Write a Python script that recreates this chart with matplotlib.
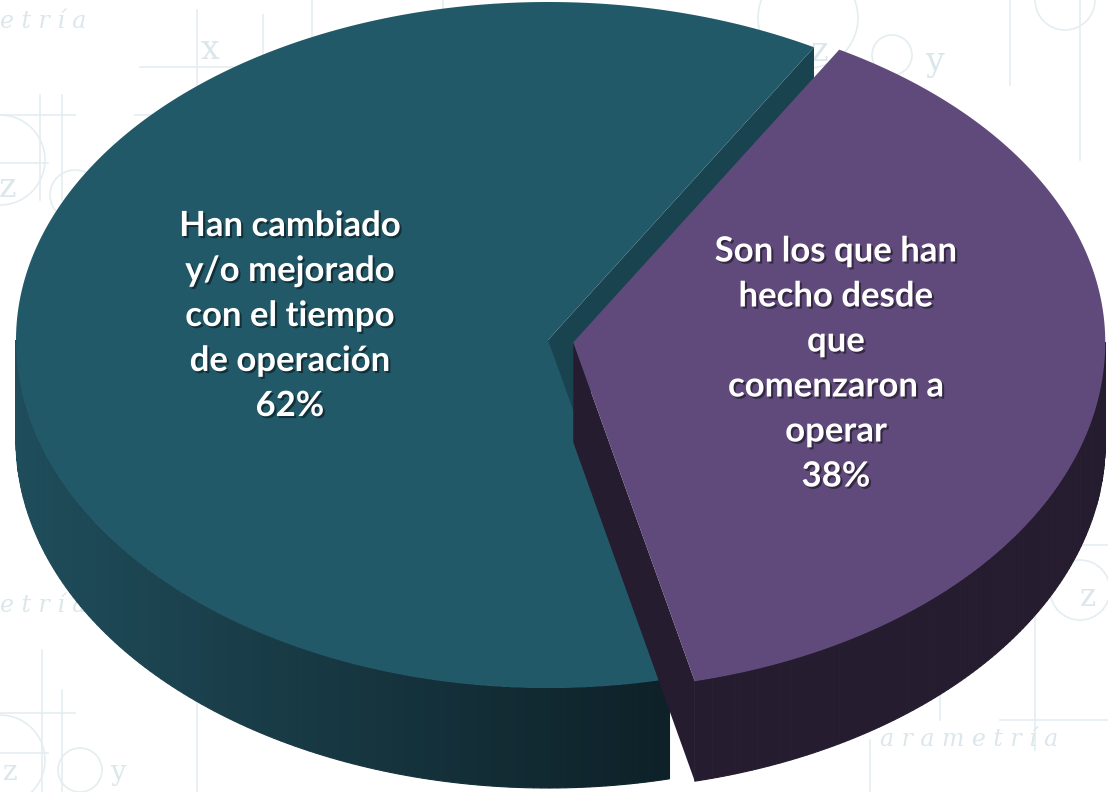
import numpy as np
import matplotlib.pyplot as plt
import matplotlib.patheffects as pe
from matplotlib.patches import Polygon, Circle

labels = ['Han cambiado\ny/o mejorado\ncon el tiempo\nde operación',
          'Son los que han\nhecho desde\nque\ncomenzaron a\noperar']
values = [62, 38]
top_colors = ['#215968', '#604a7b']
wall_colors = ['#1a4350', '#261c30']

# pie geometry in pixels (top half of the ellipse is a bit flatter)
cx, cy = 548, 340
rx, ry_top, ry_bot = 532, 338, 348
depth = 100
start = 60.0
explode = [0.0, 0.048]

fig = plt.figure(figsize=(11.08, 7.92), dpi=100)
ax = fig.add_axes([0, 0, 1, 1])
ax.set_xlim(0, 1108)
ax.set_ylim(792, 0)
ax.axis('off')

# faint watermark in the background
wm = '#e4eef1'
for x0, y0, y1 in [(40, 95, 200), (62, 95, 200), (197, 10, 160), (263, 15, 110), (312, 0, 85),
                   (443, 0, 90), (1010, 0, 85), (1080, 0, 160), (42, 650, 792), (62, 690, 792),
                   (197, 640, 792), (1035, 560, 750), (940, 640, 720), (870, 740, 792)]:
    ax.plot([x0, x0], [y0, y1], color=wm, lw=1.2, zorder=0)
for y0, x0, x1 in [(67, 140, 250), (115, 0, 75), (163, 0, 48), (713, 0, 75), (753, 0, 48),
                   (115, 135, 260), (720, 1000, 1108), (545, 1060, 1108)]:
    ax.plot([x0, x1], [y0, y0], color=wm, lw=1.2, zorder=0)
for xc, yc, r in [(0, 160, 45), (75, 195, 25), (808, 18, 50), (892, 55, 20), (1065, 0, 30),
                  (1080, 590, 30), (0, 760, 45), (80, 770, 22)]:
    ax.add_patch(Circle((xc, yc), r, fill=False, ec=wm, lw=1.2, zorder=0))
wm_txt = [('x', 210, 50, 24), ('z', 820, 52, 24), ('y', 935, 62, 24), ('z', 8, 188, 24),
          ('z', 1088, 598, 22), ('z', 10, 772, 20), ('y', 118, 772, 20)]
for t, x, y, s in wm_txt:
    ax.text(x, y, t, color='#dbe7eb', fontsize=s, family='DejaVu Serif', ha='center', va='center', zorder=0)
for t, x, y in [('e t r í a', 0, 22), ('e t r í a', 0, 605), ('a r a m e t r í a', 880, 740)]:
    ax.text(x, y, t, color='#dbe7eb', fontsize=17, family='DejaVu Serif', style='italic',
            ha='left', va='center', zorder=0)


def pt(theta, ox, oy, dz=0):
    t = np.radians(theta)
    s = np.sin(t)
    r_y = ry_top if s > 0 else ry_bot
    return cx + ox + rx * np.cos(t), cy + oy - r_y * s + dz


def mix(c1, c2, f):
    a = np.array([int(c1[i:i + 2], 16) for i in (1, 3, 5)]) / 255
    b = np.array([int(c2[i:i + 2], 16) for i in (1, 3, 5)]) / 255
    return a + (b - a) * f


total = sum(values)
# first slice runs counter-clockwise from the start angle, second clockwise
angles = [(start, start + 360 * values[0] / total),
          (start - 360 * values[1] / total, start)]

z = 2
for i in range(len(values)):
    a0, a1 = angles[i]
    mid = np.radians((a0 + a1) / 2)
    ox = explode[i] * rx * np.cos(mid)
    oy = -explode[i] * ry_top * np.sin(mid)
    c = (cx + ox, cy + oy)

    # radial walls facing the viewer
    for a, sgn in [(a0, -1), (a1, 1)]:
        nrm = np.radians(a + sgn * 90)
        if np.sin(nrm) < 0:
            p = pt(a, ox, oy)
            poly = [c, p, (p[0], p[1] + depth), (c[0], c[1] + depth)]
            ax.add_patch(Polygon(poly, closed=True, fc=wall_colors[i], ec='none', zorder=z))

    # outer side, front half only
    lo, hi = a0 % 360, a1 % 360
    if hi <= lo:
        hi += 360
    segs = []
    for k in (0, 360, -360):
        s0, s1 = max(lo + k, 180), min(hi + k, 360)
        if s1 > s0:
            segs.append((s0, s1))
    for s0, s1 in segs:
        th = np.linspace(s0, s1, 120)
        for j in range(len(th) - 1):
            x_a, y_a = pt(th[j], ox, oy)
            x_b, y_b = pt(th[j + 1], ox, oy)
            if i == 0:
                f = np.clip((x_a - 15) / 640, 0, 1)
                col = mix('#1f4d5b', '#0e2128', f)
            else:
                col = wall_colors[1]
            ax.add_patch(Polygon([(x_a, y_a), (x_b, y_b), (x_b, y_b + depth), (x_a, y_a + depth)],
                                 closed=True, fc=col, ec=col, lw=0.8, zorder=z + 0.5))

    # top face
    th = np.linspace(a0, a1, 300)
    poly = [c] + [pt(t, ox, oy) for t in th]
    ax.add_patch(Polygon(poly, closed=True, fc=top_colors[i], ec='none', zorder=z + 1))
    z += 3

shadow = [pe.SimplePatchShadow(offset=(1.5, -1.5), shadow_rgbFace='black', alpha=0.45), pe.Normal()]
label_pos = [(290, 316), (836, 364)]
for i in range(len(values)):
    ax.text(label_pos[i][0], label_pos[i][1], f'{labels[i]}\n{values[i]}%', color='white',
            fontsize=25, fontweight='bold', family='Lato', ha='center', va='center',
            linespacing=1.5, zorder=20, path_effects=shadow)

fig.savefig('out.png', dpi=100)
